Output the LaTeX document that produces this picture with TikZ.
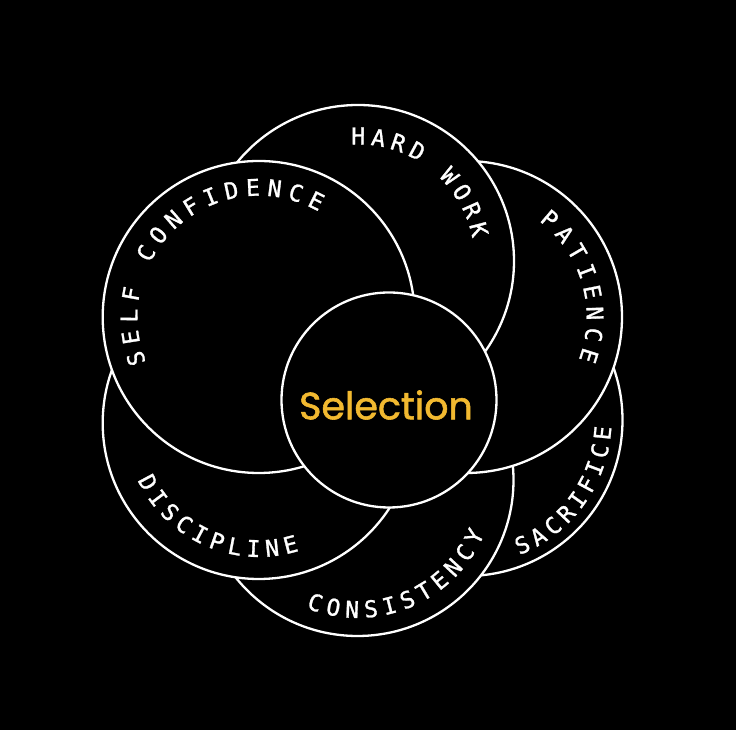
\documentclass[tikz,border=0pt]{standalone}
\usepackage{fontspec}
\newfontfamily\lblfont[FakeBold=1.2]{DejaVu Sans Mono}
\newfontfamily\selfont[FakeBold=1.5]{Poppins}
\definecolor{selyellow}{RGB}{242,185,48}
% #1 name prefix, #2 cx, #3 cy, #4 radius, #5 start angle, #6 angle step, #7 rotation offset, #8 letters
\newcommand{\arclabel}[8]{%
  \foreach \ch [count=\k from 0] in {#8} {%
    \pgfmathsetmacro\ang{#5+\k*(#6)}%
    \node[lbl, rotate=\ang+#7] (#1\k) at ({#2+#4*cos(\ang)},{#3+#4*sin(\ang)}) {\ch};
  }%
}
\begin{document}
\begin{tikzpicture}[x=1pt,y=1pt,
  petal/.style={circle, draw=white, fill=black, line width=2.3pt, minimum size=312pt, inner sep=0pt},
  hub/.style={circle, draw=white, fill=black, line width=2.3pt, minimum size=215pt, inner sep=0pt},
  lbl/.style={text=white, font=\lblfont\fontsize{23}{23}\selectfont, inner sep=0pt, anchor=center}]
\fill[black] (0,0) rectangle (736,730);
\useasboundingbox (0,0) rectangle (736,730);
% petals, bottom to top
\node[petal] (sacrifice)   at (466.5,310) {};
\node[petal] (consistency) at (357.5,250) {};
\node[petal] (patience)    at (466,413) {};
\node[petal] (discipline)  at (258.7,307) {};
\node[petal] (hardwork)    at (358,469) {};
\node[petal] (selfconf)    at (258.7,413) {};
\node[hub] (selection) at (389,330) {};
\node[text=selyellow, font=\selfont\fontsize{38}{38}\selectfont] (seltext) at (386,325) {Selection};
% labels
\arclabel{sc}{258.7}{413}{129.7}{198.7}{-9.65}{-90}{S,E,L,F,{},C,O,N,F,I,D,E,N,C,E}
\arclabel{hw}{358}{469}{125}{89.9}{-9.41}{-90}{H,A,R,D,{},W,O,R,K}
\arclabel{pa}{466}{413}{129}{49.5}{-9.57}{-90}{P,A,T,I,E,N,C,E}
\arclabel{sa}{466.5}{310}{136.6}{-65.9}{7.55}{90}{S,A,C,R,I,F,I,C,E}
\arclabel{co}{357.5}{250}{129.5}{-109}{8.32}{90}{C,O,N,S,I,S,T,E,N,C,Y}
\arclabel{di}{258.7}{307}{125.6}{-151.8}{8.49}{90}{D,I,S,C,I,P,L,I,N,E}
\end{tikzpicture}
\end{document}
